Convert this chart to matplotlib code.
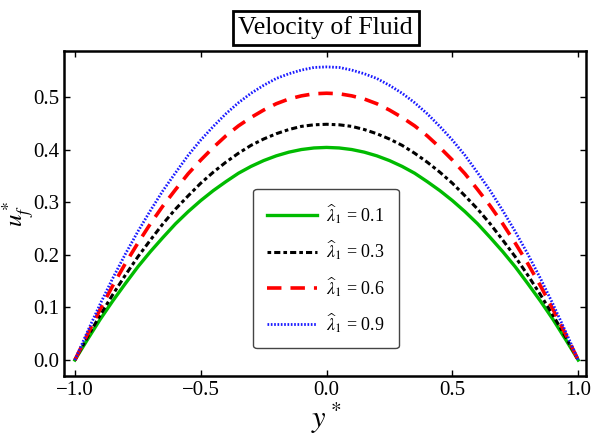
import matplotlib.pyplot as plt

plt.rcParams['font.family'] = ['Liberation Serif', 'DejaVu Serif']
plt.rcParams['mathtext.fontset'] = 'stix'

# values
y_star = [-1.0, -0.95, -0.9, -0.85, -0.8, -0.75, -0.7, -0.65, -0.6, -0.55, -0.5,
          -0.45, -0.4, -0.35, -0.3, -0.25, -0.2, -0.15, -0.1, -0.05, 0.0,
          0.05, 0.1, 0.15, 0.2, 0.25, 0.3, 0.35, 0.4, 0.45, 0.5,
          0.55, 0.6, 0.65, 0.7, 0.75, 0.8, 0.85, 0.9, 0.95, 1.0]
u_01 = [0.0, 0.039, 0.077, 0.112, 0.145, 0.177, 0.206, 0.233, 0.259, 0.282, 0.303,
        0.322, 0.339, 0.355, 0.368, 0.379, 0.388, 0.395, 0.400, 0.403, 0.404,
        0.403, 0.400, 0.395, 0.388, 0.379, 0.368, 0.355, 0.339, 0.322, 0.303,
        0.282, 0.259, 0.233, 0.206, 0.177, 0.145, 0.112, 0.077, 0.039, 0.0]
u_03 = [0.0, 0.044, 0.085, 0.124, 0.161, 0.196, 0.228, 0.259, 0.287, 0.312, 0.336,
        0.357, 0.376, 0.393, 0.408, 0.420, 0.430, 0.438, 0.444, 0.447, 0.448,
        0.447, 0.444, 0.438, 0.430, 0.420, 0.408, 0.393, 0.376, 0.357, 0.336,
        0.312, 0.287, 0.259, 0.228, 0.196, 0.161, 0.124, 0.085, 0.044, 0.0]
u_06 = [0.0, 0.049, 0.096, 0.141, 0.183, 0.222, 0.259, 0.293, 0.324, 0.354, 0.380,
        0.404, 0.426, 0.445, 0.461, 0.475, 0.487, 0.496, 0.502, 0.506, 0.507,
        0.506, 0.502, 0.496, 0.487, 0.475, 0.461, 0.445, 0.426, 0.404, 0.380,
        0.354, 0.324, 0.293, 0.259, 0.222, 0.183, 0.141, 0.096, 0.049, 0.0]
u_09 = [0.0, 0.054, 0.106, 0.155, 0.201, 0.244, 0.284, 0.322, 0.356, 0.389, 0.418,
        0.444, 0.468, 0.489, 0.507, 0.522, 0.535, 0.544, 0.551, 0.556, 0.557,
        0.556, 0.551, 0.544, 0.535, 0.522, 0.507, 0.489, 0.468, 0.444, 0.418,
        0.389, 0.356, 0.322, 0.284, 0.244, 0.201, 0.155, 0.106, 0.054, 0.0]
labels = ["0.1", "0.3", "0.6", "0.9"]

fig = plt.figure(figsize=(5.91, 4.37), dpi=100)
ax = fig.add_axes([0.108, 0.140, 0.884, 0.743])

lam = r"$\widehat{\lambda}_1$ = "
ax.plot(y_star, u_01, color="#00bb00", lw=2.4, label=lam + labels[0])
ax.plot(y_star, u_03, color="black", lw=2.2, linestyle=(0, (1.2, 1.0, 2.0, 1.0)),
        label=lam + labels[1])
ax.plot(y_star, u_06, color="red", lw=2.6, linestyle=(0, (4, 2.5)), label=lam + labels[2])
ax.plot(y_star, u_09, color="#1a1aff", lw=2.0, linestyle=(0, (0.6, 0.6)),
        label=lam + labels[3])

ax.set_xlim(-1.044, 1.032)
ax.set_ylim(-0.030, 0.587)
ax.set_xticks([-1.0, -0.5, 0.0, 0.5, 1.0])
ax.set_xticklabels(["\u22121.0", "\u22120.5", "0.0", "0.5", "1.0"])
ax.set_yticks([0.0, 0.1, 0.2, 0.3, 0.4, 0.5])
ax.tick_params(direction="in", top=True, right=True, labelsize=15, length=4, width=1)
for s in ax.spines.values():
    s.set_linewidth(1.8)

ax.set_xlabel(r"$y^*$", fontsize=22)
ax.xaxis.set_label_coords(0.502, -0.078)
ax.set_ylabel(r"$u_f^*$", fontsize=18)
ax.yaxis.set_label_coords(-0.054, 0.5)

leg = ax.legend(loc="center", bbox_to_anchor=(0.502, 0.33), fontsize=13, frameon=True,
                fancybox=True, framealpha=1, edgecolor="#444444", labelspacing=0.7,
                handlelength=2.8, borderpad=0.75, borderaxespad=0, handletextpad=0.5)
leg.get_frame().set_linewidth(1.0)

fig.text(0.551, 0.936, "Velocity of Fluid", ha="center", va="center", fontsize=18.5,
         bbox=dict(boxstyle="square,pad=0.22", facecolor="white", edgecolor="black", lw=2))

fig.savefig("out.png", dpi=100)
